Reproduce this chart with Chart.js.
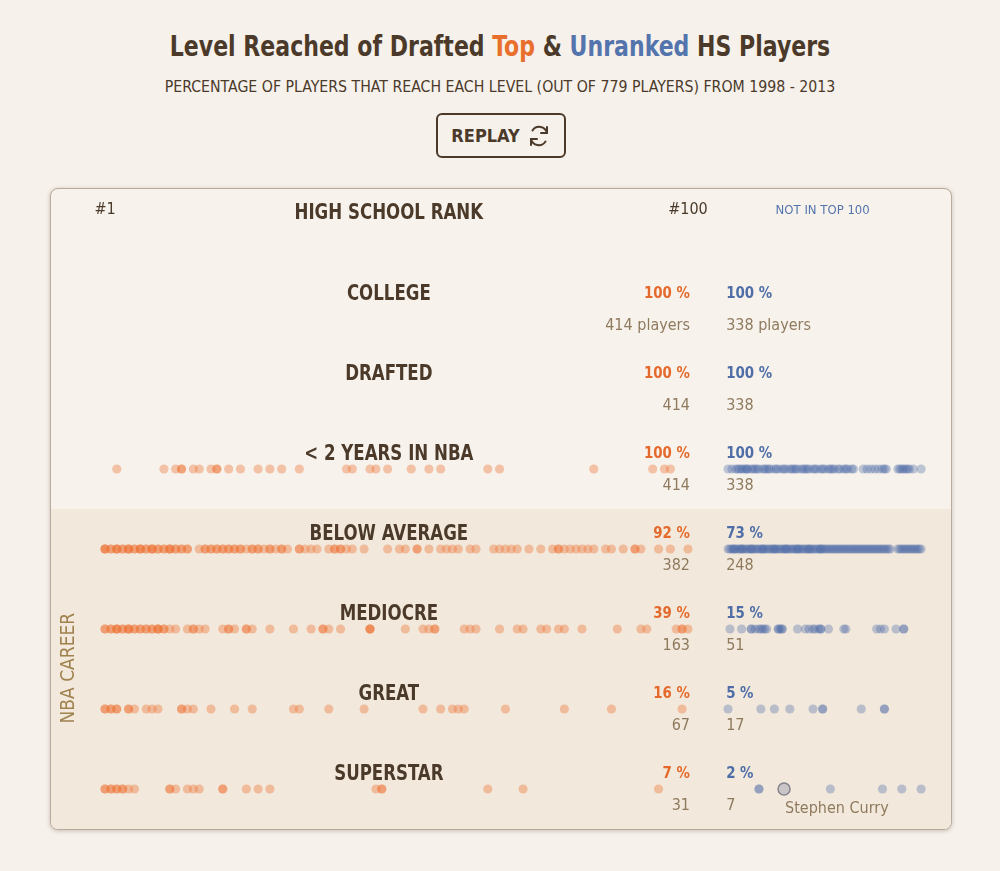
<!DOCTYPE html>
<html lang="en">
<head>
    <meta charset="UTF-8">
    <title>Level Reached of Drafted Top & Unranked HS Players</title>
    <script src="https://cdn.jsdelivr.net/npm/chart.js"></script>
    <style>
        body { margin: 0; background: #f6f1ea; width: 1000px; height: 871px; overflow: hidden;
               font-family: 'Liberation Sans Narrow', 'DejaVu Sans Condensed', Roboto, sans-serif; color: #4b3a2a; }
        h1 { position: absolute; top: 26px; left: 0; width: 1000px; margin: 0; text-align: center;
             font-size: 29px; font-weight: bold; line-height: 40px; transform: scaleX(0.845); }
        h1 .top { color: #e86f2c; }
        h1 .unr { color: #5474ad; }
        .sub { position: absolute; top: 77px; left: 0; width: 1000px; text-align: center; font-size: 16px; line-height: 20px;
               transform: scaleX(0.982); }
        .replay { position: absolute; left: 436px; top: 113px; width: 130px; height: 45px; box-sizing: border-box;
                  border: 2px solid #4b3a2a; border-radius: 6px; display: flex; align-items: center; justify-content: center;
                  font-weight: bold; font-size: 18px; gap: 7px; }
        .card { position: absolute; left: 50px; top: 188px; width: 902px; height: 642px; box-sizing: border-box;
                border: 1px solid #b8ab9d; border-radius: 8px; overflow: hidden; background: #f7f3ec;
                box-shadow: 0 1px 4px rgba(60, 40, 20, 0.25); }
        canvas { display: block; }
    </style>
</head>
<body>
    <h1>Level Reached of Drafted <span class="top">Top</span> &amp; <span class="unr">Unranked</span> HS Players</h1>
    <div class="sub">PERCENTAGE OF PLAYERS THAT REACH EACH LEVEL (OUT OF 779 PLAYERS) FROM 1998 - 2013</div>
    <div class="replay">REPLAY
        <svg width="24" height="24" viewBox="0 0 24 24" fill="none" stroke="#4b3a2a" stroke-width="2" stroke-linecap="round" stroke-linejoin="round">
            <path d="M20 9a8 8 0 0 0-14.5-2.5"/><path d="M4 15a8 8 0 0 0 14.5 2.5"/>
            <polyline points="20,3 20,9 14,9"/><polyline points="4,21 4,15 10,15"/>
        </svg>
    </div>
    <div class="card"><canvas id="levels" width="900" height="640"></canvas></div>

    <script>
        // levels, top to bottom
        const levels = ['COLLEGE', 'DRAFTED', '< 2 YEARS IN NBA', 'BELOW AVERAGE', 'MEDIOCRE', 'GREAT', 'SUPERSTAR'];
        const topPct = ['100 %', '100 %', '100 %', '92 %', '39 %', '16 %', '7 %'];
        const unrPct = ['100 %', '100 %', '100 %', '73 %', '15 %', '5 %', '2 %'];
        const topCount = ['414 players', '414', '414', '382', '163', '67', '31'];
        const unrCount = ['338 players', '338', '338', '248', '51', '17', '7'];

        // top-100 players by HS rank, grouped by the highest level they reached
        const topLess2 = [3, 11, 13, 14, 14, 16, 17, 19, 20, 20, 22, 24, 27, 29, 31, 34, 42, 43, 46, 47, 49, 53, 56, 58, 66, 68, 84, 94, 96, 97];
        const topBelowAvg = [1, 1, 1, 2, 2, 3, 3, 3, 4, 4, 5, 5, 5, 6, 6, 7, 7, 7, 8, 8, 9, 9, 9, 10, 10, 11, 11, 12, 12, 12, 13, 13, 14, 14, 15, 15,
            17, 18, 18, 19, 19, 20, 20, 21, 21, 22, 22, 23, 23, 24, 24, 25, 26, 26, 27, 27, 28, 29, 29, 30, 31, 31, 32, 34, 34, 35, 36, 37,
            39, 40, 40, 41, 41, 42, 43, 45, 49, 51, 52, 54, 54, 56, 58, 59, 60, 61, 63, 64, 67, 68, 69, 70, 71, 73, 75, 77, 78, 78, 79,
            80, 81, 82, 83, 84, 86, 87, 89, 91, 91, 92, 95, 97, 100];
        const topMediocre = [1, 1, 2, 2, 3, 3, 3, 4, 4, 5, 5, 5, 6, 6, 7, 7, 8, 8, 9, 9, 10, 10, 10, 11, 11, 12, 13, 15, 16, 16, 17, 18,
            21, 22, 22, 23, 25, 25, 26, 29, 33, 36, 38, 38, 39, 41, 46, 46, 46, 52, 55, 56, 57, 57, 62, 63, 64, 68, 71, 72, 75, 76,
            78, 79, 82, 88, 92, 93, 98, 99, 99, 100];
        const topGreat = [1, 1, 2, 2, 3, 3, 5, 5, 6, 8, 9, 10, 14, 14, 15, 16, 19, 23, 26, 33, 34, 39, 45, 55, 58, 60, 61, 62, 69, 79, 87, 99];
        const topSuperstar = [1, 1, 2, 2, 3, 3, 4, 4, 5, 6, 12, 12, 13, 15, 16, 17, 21, 21, 25, 27, 29, 47, 48, 48, 66, 72, 95];

        // unranked players, spread 0-100 across their column
        const unrLess2 = [0, 2, 4, 5, 6, 7, 8, 9, 10, 10, 12, 13, 14, 15, 16, 18, 19, 20, 21, 22, 24, 25, 26, 28, 29, 30, 32, 33, 34, 35,
            36, 38, 39, 40, 41, 42, 44, 45, 46, 48, 49, 50, 52, 53, 54, 55, 57, 58, 60, 61, 62, 64, 65, 70, 72, 74, 76, 78, 80, 81, 82,
            88, 89, 90, 91, 92, 93, 94, 96, 100];
        const unrBelowAvg = [0, 1, 2, 3, 3, 4, 5, 6, 7, 7, 8, 9, 10, 11, 12, 12, 13, 14, 15, 16, 17, 18, 18, 19, 20, 21, 22, 23, 24, 24,
            25, 26, 27, 28, 29, 30, 30, 31, 32, 33, 34, 35, 36, 36, 37, 38, 39, 40, 41, 42, 42, 43, 44, 45, 46, 47, 48, 48, 49, 50,
            51, 52, 53, 54, 55, 56, 57, 58, 59, 60, 61, 62, 63, 64, 65, 66, 67, 68, 69, 70, 71, 72, 73, 74, 75, 76, 77, 78, 79, 80,
            81, 82, 83, 84, 88, 89, 90, 91, 92, 93, 94, 95, 96, 97, 98, 99, 100];
        const unrMediocre = [1, 7, 12, 12, 14, 16, 17, 18, 19, 20, 26, 26, 27, 28, 28, 36, 40, 42, 44, 45, 47, 48, 48, 52, 60, 61, 77, 79, 81, 87, 91, 91];
        const unrGreat = [0, 17, 24, 32, 44, 49, 49, 69, 81, 81];
        const unrSuperstar = [16, 16, 53, 80, 90, 100];
        const curry = [29];

        const ORANGE = 'rgba(236, 114, 50, 0.38)';
        const BLUE = 'rgba(76, 106, 168, 0.34)';
        const DARK = '#4b3a2a';
        const TAN = '#8f7a5e';

        function pts(values, row) {
            return values.map(v => ({ x: v, y: row }));
        }

        const topRows = [[], [], topLess2, topBelowAvg, topMediocre, topGreat, topSuperstar];
        const unrRows = [[], [], unrLess2, unrBelowAvg, unrMediocre, unrGreat, unrSuperstar];

        const datasets = [];
        topRows.forEach((vals, i) => {
            datasets.push({ data: pts(vals, i), xAxisID: 'xRank', backgroundColor: ORANGE, borderWidth: 0, pointRadius: 4.6 });
        });
        unrRows.forEach((vals, i) => {
            datasets.push({ data: pts(vals, i), xAxisID: 'xOut', backgroundColor: BLUE, borderWidth: 0, pointRadius: 4.6, soft: true });
        });
        datasets.push({ data: pts(curry, 6), xAxisID: 'xOut', backgroundColor: 'rgba(170, 170, 182, 0.55)',
            borderColor: '#85838c', borderWidth: 1.5, pointRadius: 6 });

        // narrow text: the original face is much more condensed than what we have
        function narrowText(ctx, text, x, y, sx) {
            ctx.save();
            ctx.translate(x, y);
            ctx.scale(sx, 1);
            ctx.fillText(text, 0, 0);
            ctx.restore();
        }

        const textPlugin = {
            id: 'levelText',
            beforeDatasetsDraw(chart) {
                const ctx = chart.ctx;
                const y = chart.scales.y;
                const top = y.getPixelForValue(2.5);
                ctx.save();
                ctx.fillStyle = '#f2e9dc';
                ctx.fillRect(0, top, chart.width, chart.height - top);
                ctx.restore();
            },
            // the unranked dots look a little out of focus in the original
            beforeDatasetDraw(chart, args) {
                if (chart.data.datasets[args.index].soft) {
                    chart.ctx.save();
                    chart.ctx.filter = 'blur(0.7px)';
                }
            },
            afterDatasetDraw(chart, args) {
                if (chart.data.datasets[args.index].soft) {
                    chart.ctx.restore();
                }
            },
            afterDatasetsDraw(chart) {
                const ctx = chart.ctx;
                const xr = chart.scales.xRank;
                const xo = chart.scales.xOut;
                const y = chart.scales.y;
                const font = "'Liberation Sans Narrow', 'DejaVu Sans Condensed', Roboto, sans-serif";
                const midX = xr.getPixelForValue(49.2);
                const rightX = xr.getPixelForValue(100) + 2;
                const leftX = xo.getPixelForValue(-1);
                ctx.save();
                ctx.textBaseline = 'middle';

                // header
                const hy = y.getPixelForValue(-1.24);
                ctx.fillStyle = DARK;
                ctx.font = '16px ' + font;
                ctx.textAlign = 'center';
                ctx.fillText('#1', xr.getPixelForValue(1), hy);
                ctx.fillText('#100', xr.getPixelForValue(100), hy);
                ctx.font = 'bold 21px ' + font;
                narrowText(ctx, 'HIGH SCHOOL RANK', midX, hy + 4, 0.88);
                ctx.fillStyle = '#5474ad';
                ctx.font = '13px ' + font;
                ctx.fillText('NOT IN TOP 100', xo.getPixelForValue(49), hy + 1);

                levels.forEach((name, i) => {
                    const py = y.getPixelForValue(i);
                    ctx.textAlign = 'center';
                    ctx.fillStyle = DARK;
                    ctx.font = 'bold 21px ' + font;
                    narrowText(ctx, name, midX, py - 14, 0.88);

                    ctx.font = 'bold 16px ' + font;
                    ctx.fillStyle = '#e4692b';
                    ctx.textAlign = 'right';
                    narrowText(ctx, topPct[i], rightX, py - 15, 0.93);
                    ctx.textAlign = 'left';
                    ctx.fillStyle = '#4f6ea7';
                    narrowText(ctx, unrPct[i], leftX, py - 15, 0.93);

                    ctx.font = '16px ' + font;
                    ctx.fillStyle = TAN;
                    ctx.textAlign = 'right';
                    ctx.fillText(topCount[i], rightX, py + 17);
                    ctx.textAlign = 'left';
                    ctx.fillText(unrCount[i], leftX, py + 17);
                });

                ctx.fillStyle = TAN;
                ctx.font = '16px ' + font;
                ctx.textAlign = 'left';
                ctx.fillText('Stephen Curry', xo.getPixelForValue(29.5), y.getPixelForValue(6) + 20);

                // side label
                ctx.translate(18, y.getPixelForValue(4.49));
                ctx.rotate(-Math.PI / 2);
                ctx.textAlign = 'center';
                ctx.fillStyle = '#a0824f';
                ctx.font = '19px ' + font;
                ctx.fillText('NBA CAREER', 0, 0);
                ctx.restore();
            }
        };

        new Chart(document.getElementById('levels').getContext('2d'), {
            type: 'scatter',
            data: { datasets: datasets },
            options: {
                responsive: false,
                animation: false,
                events: [],
                layout: { padding: 0, autoPadding: false },
                plugins: { legend: { display: false }, tooltip: { enabled: false } },
                scales: {
                    xRank: { type: 'linear', display: false, min: -8.17, max: 144.66 },
                    xOut: { type: 'linear', display: false, min: -350.8, max: 115.5 },
                    y: { type: 'linear', display: false, min: -1.5, max: 6.5, reverse: true }
                }
            },
            plugins: [textPlugin]
        });
    </script>
</body>
</html>
